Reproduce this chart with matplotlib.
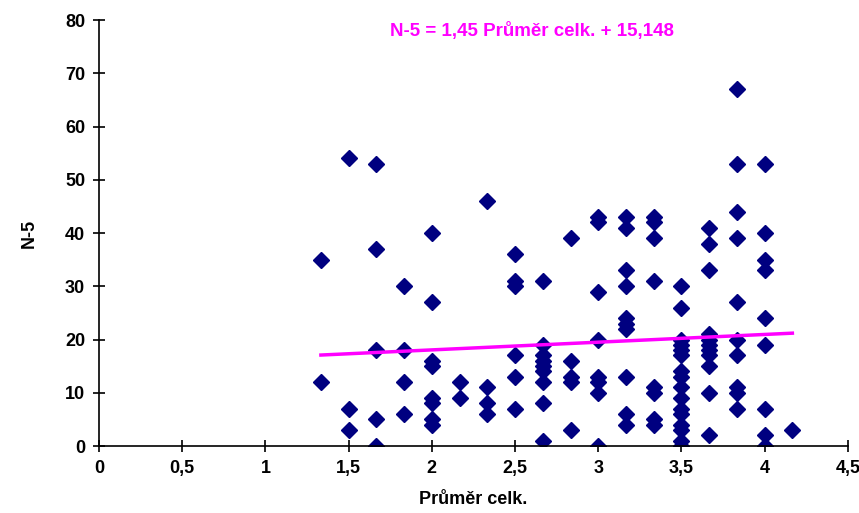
import matplotlib.pyplot as plt
from matplotlib.ticker import FuncFormatter

plt.rcParams['font.family'] = ['Liberation Sans Narrow', 'Liberation Sans', 'DejaVu Sans']

# hodnoty: průměr celk. (x) a N-5 (y) po sloupcích
x_levels = [4/3, 1.5, 5/3, 11/6, 2, 13/6, 7/3, 2.5, 8/3, 17/6, 3,
            19/6, 10/3, 3.5, 11/3, 23/6, 4, 25/6]
n5_values = [
    [35, 12],
    [54, 7, 3],
    [53, 37, 18, 5, 0],
    [30, 18, 12, 6],
    [40, 27, 16, 15, 9, 8, 5, 4],
    [12, 9],
    [46, 11, 8, 6],
    [36, 31, 30, 17, 13, 7],
    [31, 19, 17, 16, 15, 14, 12, 8, 1],
    [39, 16, 13, 12, 3],
    [43, 42, 29, 20, 13, 12, 10, 0],
    [43, 41, 33, 30, 24, 23, 22, 13, 6, 4],
    [43, 42, 39, 31, 11, 10, 5, 4],
    [30, 26, 20, 19, 18, 17, 14, 13, 11, 9, 7, 6, 4, 3, 1, 0],
    [41, 38, 33, 21, 20, 19, 18, 17, 15, 10, 2],
    [67, 53, 44, 39, 27, 20, 17, 11, 10, 7],
    [53, 40, 35, 33, 24, 19, 7, 2, 0],
    [3],
]

slope = 1.45
intercept = 15.148

x = []
y = []
for xv, col in zip(x_levels, n5_values):
    for v in col:
        x.append(xv)
        y.append(v)

fig = plt.figure(figsize=(8.59, 5.13), dpi=100)
ax = fig.add_axes([0.1153, 0.1306, 0.8717, 0.8304])

ax.plot(x, y, linestyle='none', marker='D', markersize=7.8,
        color='#000080', markeredgecolor='#000080')

lx = [min(x), max(x)]
ax.plot(lx, [slope * v + intercept for v in lx], color='#ff00ff', lw=2.5)

ax.text(2.6, 78, 'N-5 = 1,45 Průměr celk. + 15,148', color='#ff00ff',
        fontsize=13.5, fontweight='bold', ha='center', va='center')

ax.set_xlim(0, 4.5)
ax.set_ylim(0, 80)
ax.set_xticks([i * 0.5 for i in range(10)])
ax.set_yticks(range(0, 81, 10))
ax.xaxis.set_major_formatter(FuncFormatter(lambda v, p: ('%g' % v).replace('.', ',')))

for s in ['top', 'right']:
    ax.spines[s].set_visible(False)
for s in ['left', 'bottom']:
    ax.spines[s].set_linewidth(1.2)
ax.tick_params(direction='inout', length=8, width=1.2, labelsize=13, pad=6)
for lab in ax.get_xticklabels() + ax.get_yticklabels():
    lab.set_fontweight('bold')

ax.set_xlabel('Průměr celk.', fontsize=13, fontweight='bold', labelpad=10)
ax.set_ylabel('N-5', fontsize=13, fontweight='bold', labelpad=20)

fig.savefig('out.png', dpi=100)
